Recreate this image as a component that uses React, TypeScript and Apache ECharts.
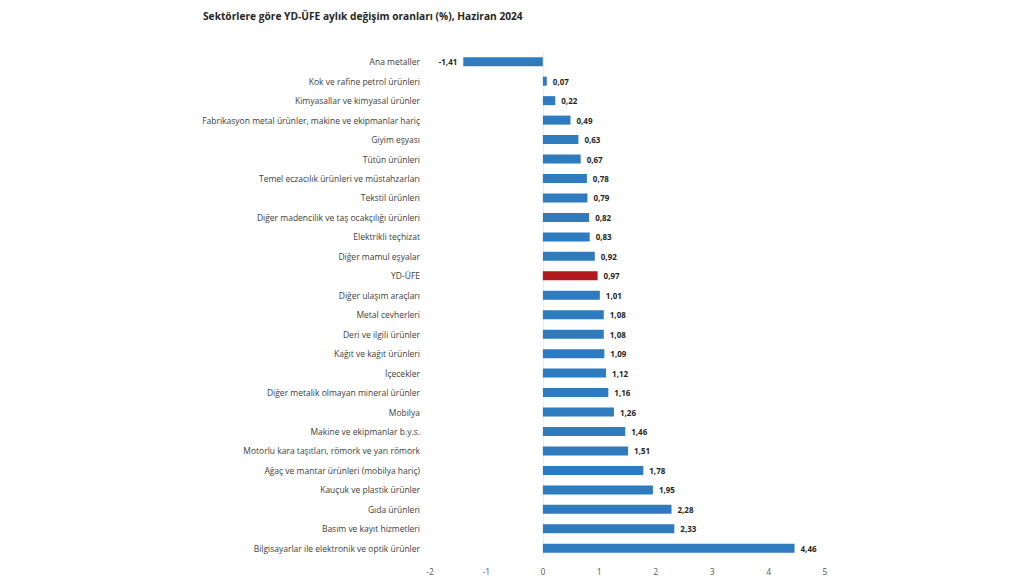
import React, { useEffect, useRef } from "react";
import * as echarts from "echarts";

const categories: string[] = [
  "Ana metaller",
  "Kok ve rafine petrol ürünleri",
  "Kimyasallar ve kimyasal ürünler",
  "Fabrikasyon metal ürünler, makine ve ekipmanlar hariç",
  "Giyim eşyası",
  "Tütün ürünleri",
  "Temel eczacılık ürünleri ve müstahzarları",
  "Tekstil ürünleri",
  "Diğer madencilik ve taş ocakçılığı ürünleri",
  "Elektrikli teçhizat",
  "Diğer mamul eşyalar",
  "YD-ÜFE",
  "Diğer ulaşım araçları",
  "Metal cevherleri",
  "Deri ve ilgili ürünler",
  "Kağıt ve kağıt ürünleri",
  "İçecekler",
  "Diğer metalik olmayan mineral ürünler",
  "Mobilya",
  "Makine ve ekipmanlar b.y.s.",
  "Motorlu kara taşıtları, römork ve yarı römork",
  "Ağaç ve mantar ürünleri (mobilya hariç)",
  "Kauçuk ve plastik ürünler",
  "Gıda ürünleri",
  "Basım ve kayıt hizmetleri",
  "Bilgisayarlar ile elektronik ve optik ürünler",
];

const values: number[] = [
  -1.41, 0.07, 0.22, 0.49, 0.63, 0.67, 0.78, 0.79, 0.82, 0.83, 0.92, 0.97, 1.01,
  1.08, 1.08, 1.09, 1.12, 1.16, 1.26, 1.46, 1.51, 1.78, 1.95, 2.28, 2.33, 4.46,
];

const highlight = "YD-ÜFE";
const title = "Sektörlere göre YD-ÜFE aylık değişim oranları (%), Haziran 2024";

export default function App() {
  const ref = useRef<HTMLDivElement>(null);
  useEffect(() => {
    if (!ref.current) return;
    const chart = echarts.init(ref.current, null, { renderer: "svg" });
    const fmt = (v: number) => v.toFixed(2).replace(".", ",");
    chart.setOption({
      animation: false,
      backgroundColor: "#ffffff",
      title: {
        text: title,
        left: 198,
        top: 6,
        textStyle: {
          fontFamily: "Open Sans",
          fontSize: 10.2,
          fontWeight: "bold",
          color: "#262626",
        },
      },
      grid: { left: 430, right: 199, top: 52, bottom: 17 },
      xAxis: {
        type: "value",
        min: -2,
        max: 5,
        interval: 1,
        axisLine: { show: false },
        axisTick: { show: false },
        splitLine: { show: false },
        axisLabel: {
          fontFamily: "Open Sans",
          fontSize: 8.5,
          color: "#595959",
          margin: 9,
        },
      },
      yAxis: {
        type: "category",
        data: categories,
        inverse: true,
        axisLine: { show: true, lineStyle: { color: "#ececec" } },
        axisTick: { show: false },
        axisLabel: {
          fontFamily: "Open Sans",
          fontSize: 8.5,
          color: "#404040",
          margin: 10,
        },
      },
      series: [
        {
          type: "bar",
          barWidth: 9,
          data: values.map((v, i) => ({
            value: v,
            itemStyle: {
              color: categories[i] === highlight ? "#b0191e" : "#2e7bbf",
            },
            label: { position: v < 0 ? "left" : "right" },
          })),
          label: {
            show: true,
            distance: 6,
            formatter: (p: any) => fmt(p.value),
            fontFamily: "Open Sans",
            fontSize: 8,
            fontWeight: "bold",
            color: "#262626",
          },
        },
      ],
    });
    return () => chart.dispose();
  }, []);
  return (
    <div
      ref={ref}
      style={{ position: "fixed", left: 0, top: 0, width: 1024, height: 576 }}
    />
  );
}
